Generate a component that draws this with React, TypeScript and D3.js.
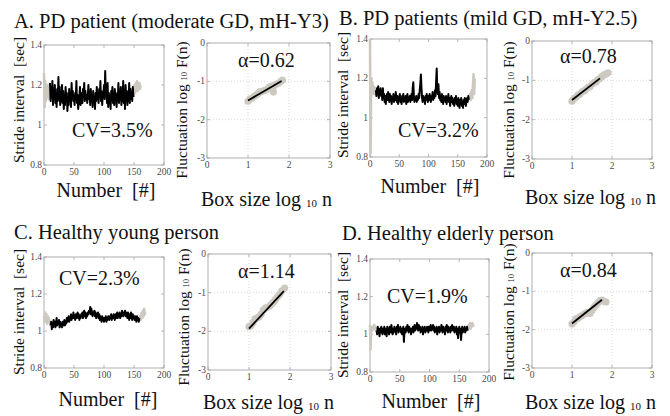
import React from 'react';
import * as d3 from 'd3';

const FONT = "'Liberation Serif', 'Times New Roman', serif";

// ---------- text ----------
const titles = [
  'A. PD patient (moderate GD, mH-Y3)',
  'B. PD patients (mild GD, mH-Y2.5)',
  'C. Healthy young person',
  'D. Healthy elderly person',
];
const cvLabels = ['CV=3.5%', 'CV=3.2%', 'CV=2.3%', 'CV=1.9%'];
const alphaLabels = ['\u03b1=0.62', '\u03b1=0.78', '\u03b1=1.14', '\u03b1=0.84'];

const strideTicksX = [0, 50, 100, 150, 200];
const strideTicksY = [0.8, 1, 1.2, 1.4];
const dfaTicksX = [0, 1, 2, 3];
const dfaTicksY = [0, -1, -2, -3];

// ---------- stride interval series (index = stride number) ----------
// black segment = [start, end] index range, rest drawn gray
const strideA = [
  1.26, 1.09, 1.22, 1.12, 1.18, 1.20, 1.14, 1.17, 1.13, 1.19,
  1.21, 1.12, 1.19, 1.14, 1.22, 1.10, 1.17, 1.13, 1.20, 1.11,
  1.16, 1.09, 1.18, 1.12, 1.24, 1.13, 1.19, 1.10, 1.15, 1.12,
  1.20, 1.11, 1.17, 1.08, 1.14, 1.10, 1.19, 1.12, 1.16, 1.07,
  1.13, 1.10, 1.18, 1.12, 1.15, 1.09, 1.21, 1.13, 1.17, 1.12,
  1.14, 1.10, 1.16, 1.13, 1.22, 1.11, 1.15, 1.08, 1.12, 1.14,
  1.19, 1.10, 1.13, 1.16, 1.11, 1.18, 1.14, 1.21, 1.12, 1.17,
  1.13, 1.15, 1.11, 1.14, 1.20, 1.13, 1.16, 1.10, 1.18, 1.12,
  1.15, 1.09, 1.17, 1.11, 1.14, 1.08, 1.16, 1.12, 1.19, 1.13,
  1.15, 1.11, 1.18, 1.14, 1.22, 1.12, 1.17, 1.10, 1.16, 1.14,
  1.20, 1.13, 1.27, 1.15, 1.18, 1.11, 1.21, 1.09, 1.16, 1.12,
  1.14, 1.08, 1.17, 1.13, 1.19, 1.11, 1.15, 1.10, 1.18, 1.13,
  1.14, 1.09, 1.16, 1.12, 1.21, 1.11, 1.15, 1.13, 1.19, 1.10,
  1.17, 1.12, 1.22, 1.11, 1.16, 1.08, 1.20, 1.13, 1.17, 1.10,
  1.15, 1.12, 1.21, 1.11, 1.18, 1.13, 1.16, 1.12, 1.19, 1.14,
  1.17, 1.20, 1.16, 1.21, 1.18, 1.22, 1.17, 1.20, 1.19, 1.21, 1.18, 1.20,
];
const blackA = [10, 149];

const strideB = [
  1.40, 0.82, 1.20, 1.15, 1.18, 1.12, 1.16, 1.14, 1.12, 1.15,
  1.14, 1.11, 1.15, 1.12, 1.16, 1.10, 1.14, 1.12, 1.15, 1.11,
  1.13, 1.09, 1.15, 1.10, 1.12, 1.08, 1.11, 1.07, 1.10, 1.12,
  1.09, 1.13, 1.10, 1.08, 1.12, 1.09, 1.11, 1.07, 1.10, 1.09,
  1.12, 1.08, 1.11, 1.09, 1.13, 1.10, 1.08, 1.11, 1.07, 1.10,
  1.09, 1.12, 1.08, 1.10, 1.07, 1.11, 1.09, 1.12, 1.08, 1.10,
  1.09, 1.11, 1.07, 1.10, 1.12, 1.08, 1.10, 1.09, 1.11, 1.08,
  1.10, 1.12, 1.09, 1.15, 1.18, 1.11, 1.08, 1.10, 1.09, 1.11,
  1.08, 1.10, 1.09, 1.12, 1.10, 1.14, 1.17, 1.22, 1.15, 1.10,
  1.08, 1.11, 1.09, 1.10, 1.07, 1.11, 1.09, 1.12, 1.10, 1.08,
  1.11, 1.09, 1.12, 1.10, 1.08, 1.11, 1.10, 1.13, 1.09, 1.12,
  1.10, 1.14, 1.11, 1.18, 1.25, 1.14, 1.12, 1.17, 1.10, 1.13,
  1.09, 1.11, 1.08, 1.12, 1.10, 1.07, 1.11, 1.09, 1.10, 1.08,
  1.11, 1.07, 1.10, 1.09, 1.12, 1.08, 1.10, 1.06, 1.09, 1.11,
  1.08, 1.10, 1.07, 1.09, 1.06, 1.10, 1.08, 1.11, 1.07, 1.09,
  1.06, 1.10, 1.08, 1.05, 1.09, 1.07, 1.10, 1.06, 1.08, 1.05,
  1.09, 1.07, 1.10, 1.08, 1.06, 1.09, 1.10, 1.08, 1.11, 1.09,
  1.10, 1.12, 1.09, 1.11, 1.14, 1.10, 1.16, 1.22, 1.12, 1.20,
];
const blackB = [10, 169];

const strideC = [
  1.08, 1.05, 1.10, 1.06, 1.09, 1.04, 1.08, 1.06, 1.07, 1.05, 1.04,
  1.03, 1.05, 1.01, 1.04, 1.02, 1.06, 1.03, 1.05, 1.02, 1.04,
  1.07, 1.03, 1.05, 1.04, 1.06, 1.02, 1.05, 1.03, 1.04, 1.02,
  1.05, 1.03, 1.04, 1.06, 1.03, 1.05, 1.04, 1.07, 1.05, 1.06,
  1.08, 1.05, 1.07, 1.06, 1.09, 1.06, 1.08, 1.07, 1.10, 1.07,
  1.08, 1.06, 1.09, 1.07, 1.08, 1.10, 1.07, 1.09, 1.06, 1.08,
  1.07, 1.09, 1.08, 1.10, 1.07, 1.09, 1.11, 1.08, 1.10, 1.07,
  1.09, 1.08, 1.10, 1.09, 1.11, 1.10, 1.13, 1.09, 1.12, 1.10,
  1.08, 1.10, 1.09, 1.11, 1.08, 1.10, 1.07, 1.09, 1.08, 1.10,
  1.07, 1.09, 1.06, 1.08, 1.07, 1.05, 1.08, 1.06, 1.07, 1.05,
  1.07, 1.06, 1.08, 1.05, 1.07, 1.06, 1.08, 1.07, 1.06, 1.08,
  1.07, 1.09, 1.06, 1.08, 1.07, 1.09, 1.08, 1.06, 1.09, 1.07,
  1.08, 1.10, 1.07, 1.09, 1.08, 1.10, 1.07, 1.09, 1.08, 1.11,
  1.09, 1.08, 1.10, 1.09, 1.11, 1.08, 1.10, 1.09, 1.07, 1.10,
  1.08, 1.06, 1.09, 1.07, 1.10, 1.08, 1.06, 1.09, 1.07, 1.08,
  1.06, 1.08, 1.07, 1.05, 1.08, 1.06, 1.07, 1.05, 1.07,
  1.08, 1.06, 1.09, 1.10, 1.07, 1.11, 1.08, 1.12, 1.09, 1.10,
];
const blackC = [11, 159];

const strideD = [
  1.05, 0.92, 1.03, 1.04, 1.02, 1.04, 1.03, 1.05, 1.03, 1.04, 1.02,
  1.02, 1.00, 1.04, 1.01, 1.03, 0.99, 1.03, 1.01, 1.04, 1.02,
  1.00, 1.03, 1.01, 1.04, 1.00, 1.03, 1.02, 0.99, 1.04, 1.01,
  1.03, 1.00, 1.04, 1.02, 1.01, 1.05, 1.02, 1.00, 1.03, 1.01,
  1.04, 1.02, 1.03, 1.00, 1.04, 1.02, 1.05, 1.01, 1.03, 1.02,
  1.04, 1.01, 1.03, 1.00, 1.02, 1.04, 0.96, 1.02, 1.03, 1.01,
  1.04, 1.02, 1.05, 1.03, 1.01, 1.04, 1.02, 1.03, 1.00, 1.03,
  1.02, 1.04, 1.01, 1.03, 1.05, 1.02, 1.04, 1.03, 1.06, 1.04,
  1.02, 1.05, 1.03, 1.04, 1.01, 1.03, 1.02, 1.04, 1.00, 1.03,
  1.02, 1.04, 1.01, 1.03, 1.02, 1.04, 1.03, 1.01, 1.04, 1.02,
  1.03, 1.05, 1.02, 1.04, 1.03, 1.05, 1.02, 1.04, 1.01, 1.03,
  1.02, 1.04, 1.00, 1.03, 1.02, 1.04, 1.01, 1.03, 1.02, 1.05,
  1.03, 1.01, 1.04, 1.02, 1.03, 1.00, 1.04, 1.02, 1.05, 1.03,
  1.01, 1.04, 1.02, 1.03, 1.01, 1.04, 1.02, 1.05, 1.03, 1.02,
  1.04, 1.01, 1.03, 1.02, 1.04, 1.00, 1.03, 0.98, 1.02, 1.04,
  1.01, 1.03, 0.97, 1.02, 1.04, 1.01, 1.03, 1.02, 1.04, 1.01,
  1.03, 1.02, 1.04, 1.02,
  1.03, 1.05, 1.04, 1.06, 1.03, 1.05, 1.04, 1.06, 1.05, 1.04,
];
const blackD = [11, 164];

// ---------- DFA: log10 n vs log10 F(n) ----------
const dfaXA = [1.00, 1.05, 1.10, 1.15, 1.20, 1.25, 1.30, 1.35, 1.40, 1.45, 1.50, 1.55, 1.60, 1.62, 1.65, 1.70, 1.75, 1.80, 1.84];
const dfaYA = [-1.52, -1.46, -1.44, -1.39, -1.36, -1.31, -1.27, -1.26, -1.24, -1.22, -1.17, -1.13, -1.12, -1.28, -1.10, -1.07, -1.05, -1.00, -0.97];
const fitXA = [1.0, 1.82];
const fitYA = [-1.5, -0.99];

const dfaXB = [1.00, 1.05, 1.10, 1.15, 1.20, 1.25, 1.30, 1.35, 1.40, 1.45, 1.50, 1.55, 1.60, 1.65, 1.70, 1.75, 1.80, 1.85, 1.90];
const dfaYB = [-1.53, -1.47, -1.43, -1.37, -1.35, -1.29, -1.27, -1.22, -1.18, -1.16, -1.10, -1.06, -1.04, -0.98, -0.95, -0.90, -0.86, -0.84, -0.81];
const fitXB = [1.0, 1.70];
const fitYB = [-1.5, -0.95];

const dfaXC = [1.00, 1.05, 1.10, 1.15, 1.20, 1.25, 1.30, 1.35, 1.40, 1.45, 1.50, 1.55, 1.60, 1.65, 1.70, 1.75, 1.80, 1.87];
const dfaYC = [-1.88, -1.85, -1.77, -1.68, -1.65, -1.62, -1.55, -1.45, -1.40, -1.38, -1.35, -1.30, -1.24, -1.17, -1.10, -1.04, -0.95, -0.88];
const fitXC = [1.0, 1.85];
const fitYC = [-1.93, -0.96];

const dfaXD = [1.00, 1.05, 1.10, 1.15, 1.20, 1.25, 1.30, 1.35, 1.40, 1.45, 1.50, 1.55, 1.60, 1.65, 1.70, 1.75, 1.80, 1.85];
const dfaYD = [-1.85, -1.80, -1.72, -1.70, -1.66, -1.63, -1.60, -1.57, -1.55, -1.58, -1.50, -1.42, -1.36, -1.30, -1.24, -1.23, -1.26, -1.28];
const fitXD = [1.0, 1.75];
const fitYD = [-1.84, -1.22];

// ---------- layout ----------
const strideBoxes = [
  { x0: 44, x1: 164, y0: 45, y1: 165, cvX: 72, cvY: 137, ylX: 19, ylY: 100, xlX: 106, xlY: 197 },
  { x0: 370, x1: 487, y0: 39, y1: 157, cvX: 398, cvY: 137, ylX: 343, ylY: 95, xlX: 430, xlY: 193 },
  { x0: 44, x1: 164, y0: 257, y1: 368, cvX: 59, cvY: 285, ylX: 19, ylY: 312, xlX: 108, xlY: 406 },
  { x0: 370, x1: 489, y0: 259, y1: 372, cvX: 387, cvY: 303, ylX: 343, ylY: 315, xlX: 431, xlY: 408 },
];
const dfaBoxes = [
  { x0: 207, x1: 330, y0: 43, y1: 158, aX: 238, aY: 67, ylX: 182, ylY: 110, xlX: 201, xlY: 206 },
  { x0: 532, x1: 652, y0: 41, y1: 159, aX: 560, aY: 63, ylX: 509, ylY: 110, xlX: 525, xlY: 204 },
  { x0: 208, x1: 331, y0: 254, y1: 370, aX: 238, aY: 278, ylX: 184, ylY: 317, xlX: 203, xlY: 409 },
  { x0: 532, x1: 652, y0: 253, y1: 368, aX: 560, aY: 277, ylX: 509, ylY: 312, xlX: 525, xlY: 409 },
];
const titlePos = [
  [14, 28],
  [339, 25],
  [14, 239],
  [342, 240],
];

const strideData = [
  { v: strideA, b: blackA },
  { v: strideB, b: blackB },
  { v: strideC, b: blackC },
  { v: strideD, b: blackD },
];
const dfaData = [
  { x: dfaXA, y: dfaYA, fx: fitXA, fy: fitYA },
  { x: dfaXB, y: dfaYB, fx: fitXB, fy: fitYB },
  { x: dfaXC, y: dfaYC, fx: fitXC, fy: fitYC },
  { x: dfaXD, y: dfaYD, fx: fitXD, fy: fitYD },
];

const FRAME = '#a6a6a6';
const TICKTXT = '#4a4a4a';
const GRAY = '#cdc9c1';

function Frame({ box, xs, ys, xt, yt, grid }: any) {
  const { x0, x1, y0, y1 } = box;
  const tl = 3;
  return (
    <g>
      {grid &&
        xt.slice(1, -1).map((t: number) => (
          <line key={'gx' + t} x1={xs(t)} x2={xs(t)} y1={y0} y2={y1} stroke="#d0d0d0" strokeWidth={0.8} strokeDasharray="1,2" />
        ))}
      {grid &&
        yt.slice(1, -1).map((t: number) => (
          <line key={'gy' + t} x1={x0} x2={x1} y1={ys(t)} y2={ys(t)} stroke="#d0d0d0" strokeWidth={0.8} strokeDasharray="1,2" />
        ))}
      {xt.map((t: number) => (
        <g key={'tx' + t}>
          <line x1={xs(t)} x2={xs(t)} y1={y1} y2={y1 - tl} stroke={FRAME} strokeWidth={0.8} />
          <line x1={xs(t)} x2={xs(t)} y1={y0} y2={y0 + tl} stroke={FRAME} strokeWidth={0.8} />
          <text x={xs(t)} y={y1 + 10} fontSize={9.5} fill={TICKTXT} textAnchor="middle" fontFamily={FONT}>
            {String(t)}
          </text>
        </g>
      ))}
      {yt.map((t: number) => (
        <g key={'ty' + t}>
          <line x1={x0} x2={x0 + tl} y1={ys(t)} y2={ys(t)} stroke={FRAME} strokeWidth={0.8} />
          <line x1={x1} x2={x1 - tl} y1={ys(t)} y2={ys(t)} stroke={FRAME} strokeWidth={0.8} />
          <text x={x0 - 2} y={ys(t) + 3} fontSize={9.5} fill={TICKTXT} textAnchor="end" fontFamily={FONT}>
            {String(t)}
          </text>
        </g>
      ))}
    </g>
  );
}

function StridePanel({ i }: { i: number }) {
  const box = strideBoxes[i];
  const { v, b } = strideData[i];
  const xs = d3.scaleLinear().domain([0, 200]).range([box.x0, box.x1]);
  const ys = d3.scaleLinear().domain([0.8, 1.4]).range([box.y1, box.y0]);
  const pts = v.map((d, k) => [k, d] as [number, number]);
  const ln = d3
    .line<[number, number]>()
    .x((d) => xs(d[0]))
    .y((d) => ys(d[1]));
  const grayStart = pts.slice(0, b[0] + 1);
  const grayEnd = pts.slice(b[1]);
  const black = pts.slice(b[0], b[1] + 1);
  return (
    <g>
      <rect x={box.x0} y={box.y0} width={box.x1 - box.x0} height={box.y1 - box.y0} fill="#fff" stroke={FRAME} strokeWidth={0.9} />
      <Frame box={box} xs={xs} ys={ys} xt={strideTicksX} yt={strideTicksY} grid={false} />
      <path d={ln(grayStart) || ''} fill="none" stroke={GRAY} strokeWidth={2.6} strokeLinejoin="round" />
      <path d={ln(grayEnd) || ''} fill="none" stroke={GRAY} strokeWidth={2.6} strokeLinejoin="round" />
      <path d={ln(black) || ''} fill="none" stroke="#000" strokeWidth={2} strokeLinejoin="round" />
      <text x={box.cvX} y={box.cvY} fontSize={20} fontFamily={FONT} fill="#111">
        {cvLabels[i]}
      </text>
      <text
        transform={`translate(${box.ylX + 5},${box.ylY}) rotate(-90)`}
        textAnchor="middle"
        fontSize={15.5}
        fontFamily={FONT}
        fill="#111"
        style={{ whiteSpace: 'pre' }}
      >
        {'Stride interval  [sec]'}
      </text>
      <text x={box.xlX} y={box.xlY} textAnchor="middle" fontSize={20} fontFamily={FONT} fill="#111" style={{ whiteSpace: 'pre' }}>
        {'Number  [#]'}
      </text>
    </g>
  );
}

function DfaPanel({ i }: { i: number }) {
  const box = dfaBoxes[i];
  const dd = dfaData[i];
  const xs = d3.scaleLinear().domain([0, 3]).range([box.x0, box.x1]);
  const ys = d3.scaleLinear().domain([-3, 0]).range([box.y1, box.y0]);
  const fit = d3
    .line<number>()
    .x((d) => xs(d))
    .y((_, k) => ys(dd.fy[k]));
  return (
    <g>
      <rect x={box.x0} y={box.y0} width={box.x1 - box.x0} height={box.y1 - box.y0} fill="#fff" stroke={FRAME} strokeWidth={0.9} />
      <Frame box={box} xs={xs} ys={ys} xt={dfaTicksX} yt={dfaTicksY} grid={true} />
      {dd.x.map((x, k) => (
        <circle key={k} cx={xs(x)} cy={ys(dd.y[k])} r={3.6} fill={GRAY} />
      ))}
      <path d={fit(dd.fx) || ''} fill="none" stroke="#000" strokeWidth={1.8} />
      <text x={box.aX} y={box.aY} fontSize={20} fontFamily={FONT} fill="#111">
        {alphaLabels[i]}
      </text>
      <text
        transform={`translate(${box.ylX + 5},${box.ylY}) rotate(-90)`}
        textAnchor="middle"
        fontSize={15.5}
        fontFamily={FONT}
        fill="#111"
        style={{ whiteSpace: 'pre' }}
      >
        {'Fluctuation log '}
        <tspan fontSize={8.5}>10</tspan>
        {' F(n)'}
      </text>
      <text x={box.xlX} y={box.xlY} fontSize={20} fontFamily={FONT} fill="#111" style={{ whiteSpace: 'pre' }}>
        {'Box size log '}
        <tspan fontSize={11} dy={1}>10</tspan>
        <tspan dy={-1}>{' n'}</tspan>
      </text>
    </g>
  );
}

export default function App() {
  return (
    <svg
      width={670}
      height={416}
      viewBox="0 0 670 416"
      style={{ position: 'absolute', left: 0, top: 0, background: '#fff' }}
      fontFamily={FONT}
    >
      <rect x={0} y={0} width={670} height={416} fill="#fff" />
      {titles.map((t, i) => (
        <text key={i} x={titlePos[i][0]} y={titlePos[i][1]} fontSize={20.5} fontFamily={FONT} fill="#111">
          {t}
        </text>
      ))}
      {[0, 1, 2, 3].map((i) => (
        <StridePanel key={'s' + i} i={i} />
      ))}
      {[0, 1, 2, 3].map((i) => (
        <DfaPanel key={'d' + i} i={i} />
      ))}
    </svg>
  );
}
